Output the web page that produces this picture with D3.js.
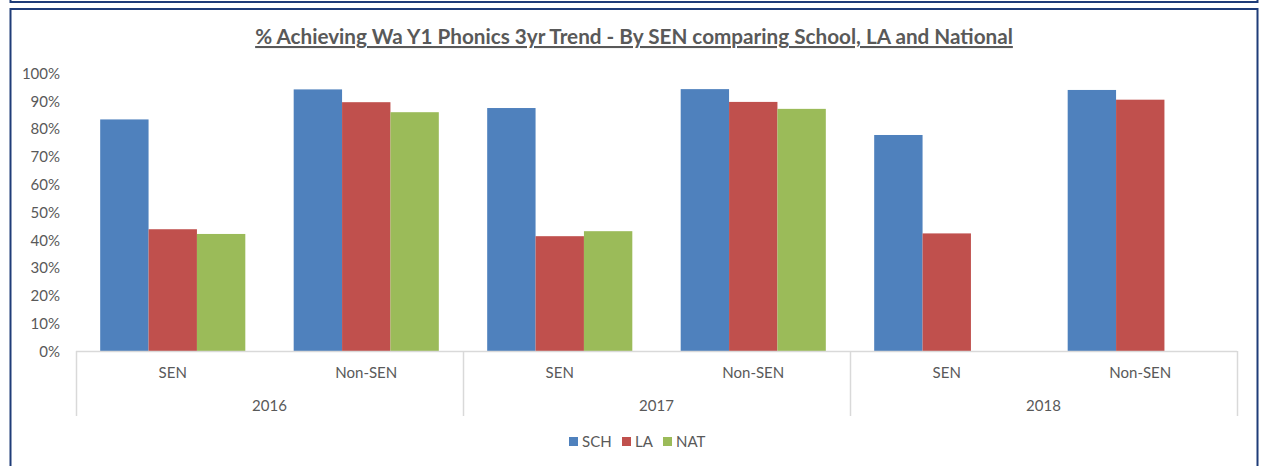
<!DOCTYPE html>
<html>
<head>
<meta charset="utf-8">
<script src="https://cdn.jsdelivr.net/npm/d3@7"></script>
<style>
  body { margin: 0; background: #fff; }
  svg { display: block; font-family: Lato, "Open Sans", sans-serif; }
</style>
</head>
<body>
<svg id="chart" width="1265" height="466"></svg>
<script>
// data
const years = ["2016", "2017", "2018"];
const groups = ["SEN", "Non-SEN"];
const series = ["SCH", "LA", "NAT"];
const colors = ["#4F81BD", "#C0504D", "#9BBB59"];
// one value per (year, group), in order 2016 SEN, 2016 Non-SEN, 2017 SEN ...
const sch = [83.3, 94.1, 87.4, 94.2, 77.7, 93.9];
const la  = [43.8, 89.5, 41.3, 89.6, 42.3, 90.4];
const nat = [42.1, 85.9, 43.1, 87.1, null, null];
const yTicks = [0, 10, 20, 30, 40, 50, 60, 70, 80, 90, 100];
const title = "% Achieving Wa Y1 Phonics 3yr Trend - By SEN comparing School, LA and National";

const svg = d3.select("#chart");
const textCol = "#595959";
const gridCol = "#D9D9D9";
const labelSize = 15;

// frames
svg.append("rect").attr("x", 10.5).attr("y", -10).attr("width", 1247).attr("height", 12)
    .attr("fill", "none").attr("stroke", "#1F3C78").attr("stroke-width", 2);
svg.append("rect").attr("x", 10.5).attr("y", 9).attr("width", 1247).attr("height", 470)
    .attr("fill", "none").attr("stroke", "#1F3C78").attr("stroke-width", 2);

svg.append("text")
    .attr("x", 634).attr("y", 44)
    .attr("text-anchor", "middle")
    .attr("font-size", 20.7).attr("font-weight", "bold")
    .attr("fill", textCol)
    .style("text-decoration", "underline")
    .text(title);

const plotLeft = 76, plotRight = 1237, plotTop = 73, plotBottom = 351;

let y = d3.scaleLinear([0, 100], [plotBottom, plotTop]);
let xYear = d3.scaleBand().domain(years).range([plotLeft, plotRight]);
let xGroup = d3.scaleBand().domain(groups).range([0, xYear.bandwidth()]);
let xSeries = d3.scaleBand().domain(series).range([0, xGroup.bandwidth()])
    .paddingInner(0).paddingOuter(0.5);

// y axis
svg.append("g")
    .attr("transform", `translate(${plotLeft - 16},0)`)
    .call(d3.axisLeft(y).tickValues(yTicks).tickSize(0).tickFormat(d => d + "%"))
    .call(g => g.select(".domain").remove())
    .call(g => g.selectAll("text").attr("fill", textCol).attr("font-size", labelSize)
        .attr("font-family", "Lato, sans-serif").attr("x", 0).attr("dy", "0.35em"));

// bars
let rows = [];
years.forEach((yr, i) => {
    groups.forEach((gr, j) => {
        let k = i * groups.length + j;
        [sch[k], la[k], nat[k]].forEach((v, s) => {
            if (v !== null) rows.push({ year: yr, group: gr, s: s, value: v });
        });
    });
});

svg.append("g")
    .selectAll("rect")
    .data(rows)
    .join("rect")
    .attr("x", d => xYear(d.year) + xGroup(d.group) + xSeries(series[d.s]))
    .attr("y", d => y(d.value))
    .attr("width", xSeries.bandwidth())
    .attr("height", d => y(0) - y(d.value))
    .attr("fill", d => colors[d.s]);

// category axis
svg.append("line")
    .attr("x1", plotLeft).attr("x2", plotRight).attr("y1", plotBottom + 0.5).attr("y2", plotBottom + 0.5)
    .attr("stroke", gridCol).attr("stroke-width", 1.5);

let seps = years.map(yr => xYear(yr)).concat([plotRight]);
svg.append("g")
    .selectAll("line")
    .data(seps)
    .join("line")
    .attr("x1", d => Math.round(d) + 0.5).attr("x2", d => Math.round(d) + 0.5)
    .attr("y1", plotBottom).attr("y2", 416)
    .attr("stroke", gridCol).attr("stroke-width", 1.5);

let subLabels = [];
years.forEach(yr => groups.forEach(gr => subLabels.push({ year: yr, group: gr })));
svg.append("g")
    .selectAll("text")
    .data(subLabels)
    .join("text")
    .attr("x", d => xYear(d.year) + xGroup(d.group) + xGroup.bandwidth() / 2)
    .attr("y", 373).attr("dy", "0.35em")
    .attr("text-anchor", "middle").attr("font-size", labelSize).attr("fill", textCol)
    .text(d => d.group);

svg.append("g")
    .selectAll("text")
    .data(years)
    .join("text")
    .attr("x", d => xYear(d) + xYear.bandwidth() / 2)
    .attr("y", 406).attr("dy", "0.35em")
    .attr("text-anchor", "middle").attr("font-size", labelSize).attr("fill", textCol)
    .text(d => d);

// legend
const legendX = [569, 622, 663];
let legend = svg.append("g")
    .selectAll("g")
    .data(series)
    .join("g")
    .attr("transform", (d, i) => `translate(${legendX[i]},437)`);
legend.append("rect").attr("width", 9).attr("height", 9).attr("fill", (d, i) => colors[i]);
legend.append("text").attr("x", 13).attr("y", 4.5).attr("dy", "0.35em")
    .attr("font-size", labelSize).attr("fill", textCol).text(d => d);
</script>
</body>
</html>
